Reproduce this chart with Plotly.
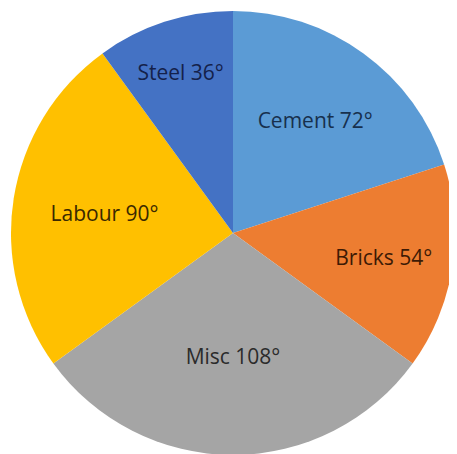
import plotly.graph_objects as go

categories = ["Cement", "Bricks", "Misc", "Labour", "Steel"]
degrees = [72, 54, 108, 90, 36]
colors = ["#5B9BD5", "#ED7D31", "#A5A5A5", "#FFC000", "#4472C4"]
text_colors = ["#17304d", "#3d1a05", "#2b2b2b", "#3a2800", "#14214a"]

W, H = 457, 454
# page body adds an 8px offset; pie centre at (233,233) in the window, radius 222
cx, cy, r = 233 - 8, 233 - 8, 222

fig = go.Figure(go.Pie(
    labels=categories,
    values=degrees,
    sort=False,
    direction="clockwise",
    rotation=0,
    marker=dict(colors=colors, line=dict(width=0)),
    texttemplate="%{label} %{value}°",
    textposition="inside",
    insidetextorientation="horizontal",
    textfont=dict(family="Open Sans", size=21, color=text_colors),
    showlegend=False,
    hoverinfo="label+value",
    domain=dict(x=[(cx - r) / W, (cx + r) / W], y=[1 - (cy + r) / H, 1 - (cy - r) / H]),
))

fig.update_layout(
    width=W, height=H,
    margin=dict(l=0, r=0, t=0, b=0),
    paper_bgcolor="white",
    plot_bgcolor="white",
    uniformtext=dict(minsize=21, mode="show"),
)

fig.write_html("out.html")
